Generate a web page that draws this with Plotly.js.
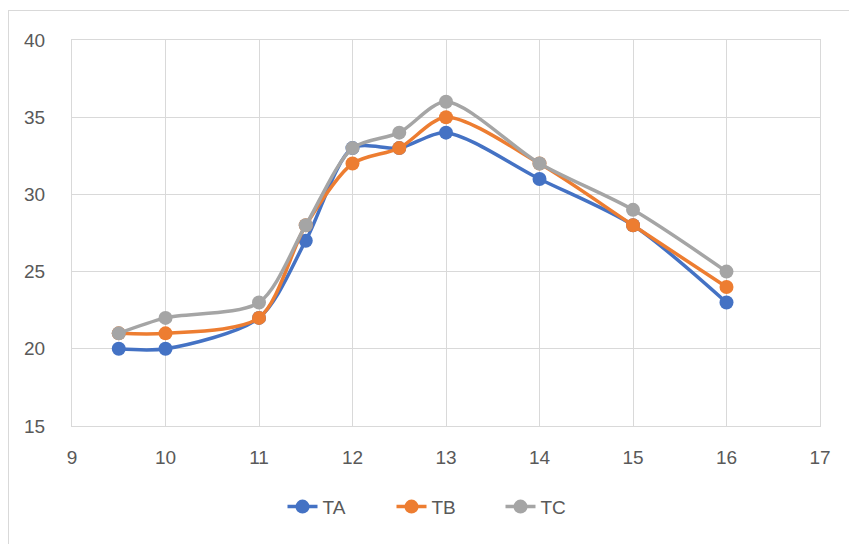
<!DOCTYPE html>
<html><head><meta charset="utf-8">
<script src="https://cdn.plot.ly/plotly-3.0.1.min.js"></script>
<style>body{margin:0;background:#fff}#wrap{position:relative;width:849px;height:544px}#chart{width:849px;height:544px}
#frame{position:absolute;left:8px;top:10px;width:845px;height:540px;border:1px solid #d9d9d9;pointer-events:none}</style>
</head><body><div id="wrap"><div id="chart"></div><div id="frame"></div></div>
<script>
const xVals = [9.5, 10, 11, 11.5, 12, 12.5, 13, 14, 15, 16];
const TA = [20, 20, 22, 27, 33, 33, 34, 31, 28, 23];
const TB = [21, 21, 22, 28, 32, 33, 35, 32, 28, 24];
const TC = [21, 22, 23, 28, 33, 34, 36, 32, 29, 25];
const names = ['TA', 'TB', 'TC'];
const colors = ['#4472C4', '#ED7D31', '#A5A5A5'];
const series = [TA, TB, TC];
const traces = series.map((y, i) => ({
  x: xVals, y: y, name: names[i], type: 'scatter', mode: 'lines+markers',
  line: {color: colors[i], width: 3.5, shape: 'spline', smoothing: 0.8},
  marker: {color: colors[i], size: 14}
}));
const font = {family: 'Liberation Sans, Arial, sans-serif', size: 19, color: '#595959'};
const layout = {
  width: 849, height: 544,
  margin: {l: 72, r: 29, t: 40, b: 118},
  paper_bgcolor: '#fff', plot_bgcolor: '#fff',
  font: font,
  showlegend: true,
  legend: {orientation: 'h', x: 0.5, xanchor: 'center', y: -0.16, yanchor: 'top', font: font,
    entrywidth: 64, entrywidthmode: 'pixels'},
  xaxis: {range: [9, 17], dtick: 1, tick0: 9, showgrid: true, gridcolor: '#d9d9d9', gridwidth: 1,
    showline: true, linecolor: '#d9d9d9', linewidth: 1, mirror: true, zeroline: false,
    ticks: 'outside', ticklen: 14, tickcolor: 'rgba(0,0,0,0)', tickfont: font, fixedrange: true},
  yaxis: {range: [15, 40], dtick: 5, tick0: 15, showgrid: true, gridcolor: '#d9d9d9', gridwidth: 1,
    showline: true, linecolor: '#d9d9d9', linewidth: 1, mirror: true, zeroline: false,
    ticks: 'outside', ticklen: 22, tickcolor: 'rgba(0,0,0,0)', tickfont: font, fixedrange: true}
};
Plotly.newPlot('chart', traces, layout, {displayModeBar: false, staticPlot: true});
</script></body></html>
